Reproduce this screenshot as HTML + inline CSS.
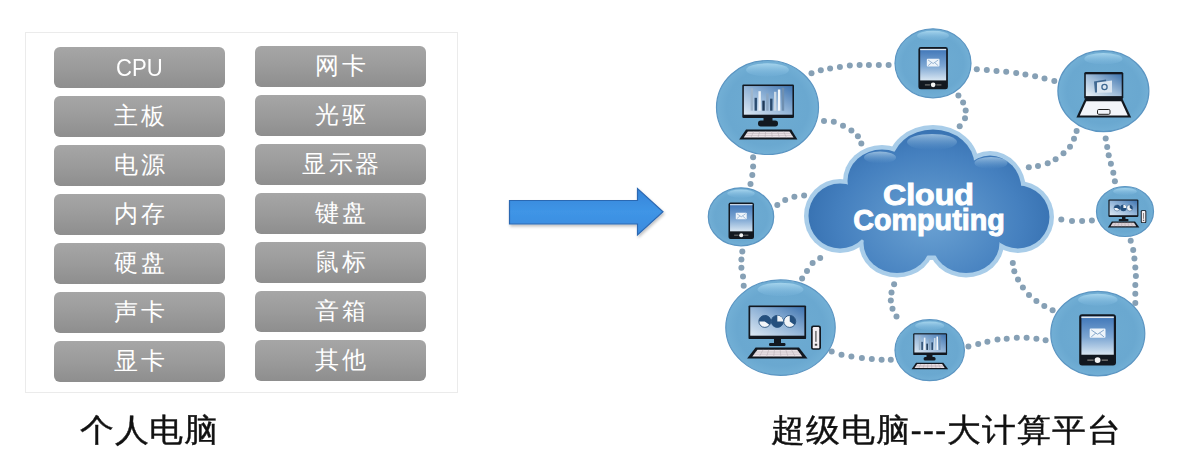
<!DOCTYPE html>
<html><head><meta charset="utf-8">
<style>
html,body{margin:0;padding:0;background:#fff;}
body{width:1190px;height:457px;position:relative;overflow:hidden;font-family:"Liberation Sans",sans-serif;}
.panel{position:absolute;left:25px;top:32px;width:433px;height:361px;border:1px solid #ebebeb;box-sizing:border-box;}
.btn{position:absolute;width:171px;height:41px;border-radius:6px;background:linear-gradient(#a6a6a6,#9b9b9b 50%,#8e8e8e);color:#fff;font-size:24px;line-height:40px;text-align:center;font-weight:300;letter-spacing:2.5px;text-indent:2.5px;}
.btn.en{font-size:24px;letter-spacing:0;text-indent:0;line-height:41px;}
.cap{position:absolute;font-size:32px;color:#111;line-height:1;white-space:nowrap;letter-spacing:0.6px;transform:scaleX(1.06);transform-origin:0 0;-webkit-text-stroke:0.4px #111;}
</style></head><body>
<div class="panel"></div>
<div class="btn en" style="left:54px;top:47px"><span style="display:inline-block;transform:scaleX(0.92)">CPU</span></div>
<div class="btn" style="left:54px;top:96px">主板</div>
<div class="btn" style="left:54px;top:145px">电源</div>
<div class="btn" style="left:54px;top:194px">内存</div>
<div class="btn" style="left:54px;top:243px">硬盘</div>
<div class="btn" style="left:54px;top:292px">声卡</div>
<div class="btn" style="left:54px;top:341px">显卡</div>
<div class="btn" style="left:255px;top:46px">网卡</div>
<div class="btn" style="left:255px;top:95px">光驱</div>
<div class="btn" style="left:255px;top:144px">显示器</div>
<div class="btn" style="left:255px;top:193px">键盘</div>
<div class="btn" style="left:255px;top:242px">鼠标</div>
<div class="btn" style="left:255px;top:291px">音箱</div>
<div class="btn" style="left:255px;top:340px">其他</div>

<svg style="position:absolute;left:0;top:0" width="1190" height="457" viewBox="0 0 1190 457"><defs>
<linearGradient id="arr" x1="0" y1="0" x2="0" y2="1"><stop offset="0" stop-color="#3584d8"/><stop offset="0.5" stop-color="#3f95e6"/><stop offset="1" stop-color="#3a8ade"/></linearGradient>
<radialGradient id="cg" cx="0.5" cy="0.5" r="0.5"><stop offset="0" stop-color="#6eacd2"/><stop offset="0.8" stop-color="#6aa8d0"/><stop offset="1" stop-color="#72afd5"/></radialGradient>
<filter id="ash" x="-5%" y="-20%" width="115%" height="150%"><feGaussianBlur in="SourceAlpha" stdDeviation="1.5"/><feOffset dx="1" dy="2"/><feComponentTransfer><feFuncA type="linear" slope="0.25"/></feComponentTransfer><feMerge><feMergeNode/><feMergeNode in="SourceGraphic"/></feMerge></filter>
<linearGradient id="hl" x1="0" y1="0" x2="0" y2="1"><stop offset="0" stop-color="#a8d6ee" stop-opacity="0.95"/><stop offset="1" stop-color="#78b4dc" stop-opacity="0.25"/></linearGradient>
<linearGradient id="scr" x1="0" y1="1" x2="1" y2="0"><stop offset="0" stop-color="#dce8f3"/><stop offset="0.5" stop-color="#93b5d8"/><stop offset="1" stop-color="#3f74b0"/></linearGradient>
<linearGradient id="scr2" x1="0" y1="1" x2="1" y2="0"><stop offset="0" stop-color="#eaf1f7"/><stop offset="0.5" stop-color="#9dbbd8"/><stop offset="1" stop-color="#3f74ae"/></linearGradient>
<linearGradient id="ph" x1="0" y1="0" x2="0" y2="1"><stop offset="0" stop-color="#3f76b8"/><stop offset="0.55" stop-color="#7ea7d3"/><stop offset="1" stop-color="#d8e6f2"/></linearGradient>
<radialGradient id="cl" gradientUnits="userSpaceOnUse" cx="930" cy="222" r="130" gradientTransform="translate(930 222) scale(1 0.75) translate(-930 -222)"><stop offset="0" stop-color="#6aa1d3"/><stop offset="0.3" stop-color="#5a93ca"/><stop offset="0.7" stop-color="#4580bf"/><stop offset="1" stop-color="#3670b0"/></radialGradient>
<linearGradient id="chl" x1="0" y1="0" x2="0" y2="1"><stop offset="0" stop-color="#b4d2ea" stop-opacity="0.75"/><stop offset="1" stop-color="#6fa6d6" stop-opacity="0"/></linearGradient>
</defs><path d="M509.5,200.5 H637.5 V188.5 L663,211.8 L637.5,235 V224 H509.5 Z" fill="url(#arr)" stroke="#2c68b2" stroke-width="1.2" filter="url(#ash)"/><g fill="#86a0b5"><circle cx="811.5" cy="73.2" r="3"/><circle cx="820.8" cy="70.2" r="3"/><circle cx="830.1" cy="68.6" r="3"/><circle cx="839.9" cy="67" r="3"/><circle cx="849.8" cy="65.6" r="3"/><circle cx="859.6" cy="65" r="3"/><circle cx="868.9" cy="65" r="3"/><circle cx="878.8" cy="65" r="3"/><circle cx="888.6" cy="65" r="3"/><circle cx="976.8" cy="69.2" r="3"/><circle cx="986.8" cy="70" r="3"/><circle cx="996.5" cy="71" r="3"/><circle cx="1006.2" cy="71.8" r="3"/><circle cx="1016.2" cy="73.1" r="3"/><circle cx="1025.4" cy="74.4" r="3"/><circle cx="1035.1" cy="76.3" r="3"/><circle cx="1044.5" cy="78.4" r="3"/><circle cx="1054.3" cy="81" r="3"/><circle cx="958.4" cy="95.5" r="3"/><circle cx="963.1" cy="102.6" r="3"/><circle cx="965.7" cy="110.4" r="3"/><circle cx="965" cy="118.3" r="3"/><circle cx="959.7" cy="126.2" r="3"/><circle cx="1076.6" cy="130.9" r="3"/><circle cx="1074" cy="138.8" r="3"/><circle cx="1070" cy="146.7" r="3"/><circle cx="1063.5" cy="153.2" r="3"/><circle cx="1055.6" cy="159.3" r="3"/><circle cx="1047.7" cy="163.2" r="3"/><circle cx="1038" cy="165.9" r="3"/><circle cx="1028.8" cy="167.2" r="3"/><circle cx="824" cy="121" r="3"/><circle cx="833.8" cy="121.8" r="3"/><circle cx="843" cy="125.8" r="3"/><circle cx="851.4" cy="130.5" r="3"/><circle cx="857.9" cy="136.3" r="3"/><circle cx="861.3" cy="143.6" r="3"/><circle cx="753.1" cy="157.3" r="3"/><circle cx="753.1" cy="166.5" r="3"/><circle cx="752.3" cy="175.1" r="3"/><circle cx="750.5" cy="184.1" r="3"/><circle cx="777.3" cy="205.1" r="3"/><circle cx="785.2" cy="200.1" r="3"/><circle cx="794.4" cy="196.7" r="3"/><circle cx="804.1" cy="195.4" r="3"/><circle cx="742.3" cy="251.4" r="3"/><circle cx="741.4" cy="259.6" r="3"/><circle cx="741.4" cy="267.8" r="3"/><circle cx="743" cy="276.6" r="3"/><circle cx="743.7" cy="285.8" r="3"/><circle cx="802.1" cy="278.6" r="3"/><circle cx="807" cy="271" r="3"/><circle cx="812.6" cy="262.9" r="3"/><circle cx="820.2" cy="257.9" r="3"/><circle cx="831.7" cy="351.5" r="3"/><circle cx="841.5" cy="354.8" r="3"/><circle cx="851.4" cy="356.5" r="3"/><circle cx="861.9" cy="358.1" r="3"/><circle cx="871.8" cy="359.1" r="3"/><circle cx="881.6" cy="359.8" r="3"/><circle cx="890.8" cy="359.8" r="3"/><circle cx="894.1" cy="284.2" r="3"/><circle cx="891.5" cy="292.4" r="3"/><circle cx="890.8" cy="300.6" r="3"/><circle cx="892.5" cy="308.8" r="3"/><circle cx="896.5" cy="316.5" r="3"/><circle cx="968.4" cy="346.4" r="3"/><circle cx="978.2" cy="343.9" r="3"/><circle cx="987.4" cy="341.8" r="3"/><circle cx="997.5" cy="339.6" r="3"/><circle cx="1006.7" cy="338.7" r="3"/><circle cx="1016.8" cy="337.8" r="3"/><circle cx="1026.6" cy="337.8" r="3"/><circle cx="1036.4" cy="338.7" r="3"/><circle cx="1045.6" cy="340.3" r="3"/><circle cx="1012.8" cy="263.1" r="3"/><circle cx="1014.3" cy="271.3" r="3"/><circle cx="1018" cy="279.6" r="3"/><circle cx="1022.9" cy="287.6" r="3"/><circle cx="1029" cy="294.9" r="3"/><circle cx="1036.4" cy="301.1" r="3"/><circle cx="1044.3" cy="306" r="3"/><circle cx="1052.6" cy="310.2" r="3"/><circle cx="1130.7" cy="240.7" r="3"/><circle cx="1133.2" cy="249.9" r="3"/><circle cx="1134.4" cy="258.5" r="3"/><circle cx="1135.3" cy="267.4" r="3"/><circle cx="1135.9" cy="275.9" r="3"/><circle cx="1135.3" cy="285.1" r="3"/><circle cx="1135.3" cy="293.7" r="3"/><circle cx="1135.3" cy="302.9" r="3"/><circle cx="1105.7" cy="138.4" r="3"/><circle cx="1107.2" cy="147" r="3"/><circle cx="1108.7" cy="155.2" r="3"/><circle cx="1110.9" cy="163.8" r="3"/><circle cx="1113.3" cy="172.7" r="3"/><circle cx="1114.9" cy="181.3" r="3"/><circle cx="1061.3" cy="219.5" r="3"/><circle cx="1072" cy="221.1" r="3"/><circle cx="1082.1" cy="221.1" r="3"/><circle cx="1091.9" cy="220.5" r="3"/></g><ellipse cx="767.5" cy="107.5" rx="51" ry="47" fill="url(#cg)" stroke="#5b95c2" stroke-width="1.2"/><ellipse cx="767.5" cy="69.90" rx="21.42" ry="6.58" fill="url(#hl)"/><ellipse cx="933" cy="63.3" rx="38" ry="34.5" fill="url(#cg)" stroke="#5b95c2" stroke-width="1.2"/><ellipse cx="933" cy="35.70" rx="15.96" ry="4.83" fill="url(#hl)"/><ellipse cx="1103.4" cy="91.1" rx="45.5" ry="40.5" fill="url(#cg)" stroke="#5b95c2" stroke-width="1.2"/><ellipse cx="1103.4" cy="58.70" rx="19.11" ry="5.67" fill="url(#hl)"/><ellipse cx="741" cy="216.8" rx="32.7" ry="29" fill="url(#cg)" stroke="#5b95c2" stroke-width="1.2"/><ellipse cx="741" cy="193.60" rx="13.73" ry="4.06" fill="url(#hl)"/><ellipse cx="1125" cy="211.5" rx="28.5" ry="25" fill="url(#cg)" stroke="#5b95c2" stroke-width="1.2"/><ellipse cx="1125" cy="191.50" rx="11.97" ry="3.50" fill="url(#hl)"/><ellipse cx="780.5" cy="327.6" rx="54.7" ry="47.7" fill="url(#cg)" stroke="#5b95c2" stroke-width="1.2"/><ellipse cx="780.5" cy="289.44" rx="22.97" ry="6.68" fill="url(#hl)"/><ellipse cx="929.7" cy="350.2" rx="34.7" ry="30.5" fill="url(#cg)" stroke="#5b95c2" stroke-width="1.2"/><ellipse cx="929.7" cy="325.80" rx="14.57" ry="4.27" fill="url(#hl)"/><ellipse cx="1097.8" cy="333.6" rx="47" ry="42.3" fill="url(#cg)" stroke="#5b95c2" stroke-width="1.2"/><ellipse cx="1097.8" cy="299.76" rx="19.74" ry="5.92" fill="url(#hl)"/><ellipse cx="840" cy="216" rx="36" ry="37" fill="#a9cde9"/><ellipse cx="882" cy="181" rx="39" ry="36" fill="#a9cde9"/><ellipse cx="933" cy="165" rx="46" ry="40" fill="#a9cde9"/><ellipse cx="990" cy="190" rx="36" ry="39" fill="#a9cde9"/><ellipse cx="1018" cy="217" rx="36" ry="36" fill="#a9cde9"/><ellipse cx="897" cy="243" rx="38" ry="34.5" fill="#a9cde9"/><ellipse cx="966" cy="243" rx="38" ry="34.5" fill="#a9cde9"/><ellipse cx="930" cy="212" rx="92" ry="48" fill="#a9cde9"/><ellipse cx="840" cy="216" rx="31.5" ry="32.5" fill="url(#cl)"/><ellipse cx="882" cy="181" rx="34.5" ry="31.5" fill="url(#cl)"/><ellipse cx="933" cy="165" rx="41.5" ry="35.5" fill="url(#cl)"/><ellipse cx="990" cy="190" rx="31.5" ry="34.5" fill="url(#cl)"/><ellipse cx="1018" cy="217" rx="31.5" ry="31.5" fill="url(#cl)"/><ellipse cx="897" cy="243" rx="33.5" ry="30.0" fill="url(#cl)"/><ellipse cx="966" cy="243" rx="33.5" ry="30.0" fill="url(#cl)"/><ellipse cx="930" cy="212" rx="87.5" ry="43.5" fill="url(#cl)"/><ellipse cx="932" cy="142" rx="25" ry="8" fill="url(#chl)"/><ellipse cx="880" cy="157.5" rx="16" ry="6" fill="url(#chl)"/><ellipse cx="991" cy="163" rx="16.5" ry="6" fill="url(#chl)"/><text x="928.5" y="204.5" font-family="Liberation Sans" font-weight="bold" font-size="30" fill="#fff" stroke="#fff" stroke-width="1" text-anchor="middle" textLength="91" lengthAdjust="spacingAndGlyphs">Cloud</text><text x="929" y="229.5" font-family="Liberation Sans" font-weight="bold" font-size="30" fill="#fff" stroke="#fff" stroke-width="1" text-anchor="middle" textLength="151.5" lengthAdjust="spacingAndGlyphs">Computing</text><rect x="742.3" y="84.5" width="51.7" height="33.4" rx="1.2" fill="#121820"/><rect x="743.85" y="86.05" width="48.60" height="28.65" fill="url(#scr)"/><rect x="750.65" y="88.34" width="2.41" height="22.35" fill="#9fb6cc"/><rect x="754.54" y="97.80" width="2.41" height="12.89" fill="#2c4d70"/><rect x="758.43" y="91.21" width="2.41" height="19.48" fill="#eef3f8"/><rect x="762.32" y="100.66" width="2.41" height="10.03" fill="#1f3a58"/><rect x="766.21" y="93.50" width="2.41" height="17.19" fill="#8aa6c2"/><rect x="770.09" y="98.66" width="2.41" height="12.03" fill="#2b4b6d"/><rect x="773.98" y="91.78" width="2.41" height="18.91" fill="#c9d8e6"/><rect x="777.87" y="89.49" width="2.41" height="21.20" fill="#f4f8fb"/><rect x="781.76" y="87.77" width="2.41" height="22.92" fill="#6f8fb0"/><rect x="763.5" y="117.5" width="9.00" height="4.00" fill="#121820"/><rect x="758" y="120.50" width="20.00" height="6.00" rx="2.75" fill="#121820"/><path d="M746,129.4 H791.3 L797.4,139.4 H739.2 Z" fill="#121820"/><path d="M747.84,131.40 H789.46 L793.54,137.40 H743.76 Z" fill="#ece3e8"/><line x1="753.79" y1="131.40" x2="750.87" y2="137.40" stroke="#b3a9ae" stroke-width="0.5"/><line x1="759.73" y1="131.40" x2="757.98" y2="137.40" stroke="#b3a9ae" stroke-width="0.5"/><line x1="765.68" y1="131.40" x2="765.09" y2="137.40" stroke="#b3a9ae" stroke-width="0.5"/><line x1="771.62" y1="131.40" x2="772.21" y2="137.40" stroke="#b3a9ae" stroke-width="0.5"/><line x1="777.57" y1="131.40" x2="779.32" y2="137.40" stroke="#b3a9ae" stroke-width="0.5"/><line x1="783.51" y1="131.40" x2="786.43" y2="137.40" stroke="#b3a9ae" stroke-width="0.5"/><line x1="746.48" y1="133.40" x2="790.82" y2="133.40" stroke="#b3a9ae" stroke-width="0.5"/><line x1="745.12" y1="135.40" x2="792.18" y2="135.40" stroke="#b3a9ae" stroke-width="0.5"/><rect x="918.4" y="47" width="29.5" height="42.3" rx="2.4" fill="#121820"/><rect x="920.17" y="48.90" width="25.96" height="31.51" fill="url(#ph)"/><rect x="920.17" y="48.90" width="25.96" height="1.27" fill="#dfe7ef"/><rect x="926.81" y="58.84" width="12.69" height="7.61" rx="0.89" fill="#eef4fa"/><path d="M928.08,59.99 L933.15,63.56 L938.22,59.99 M928.08,65.70 L931.63,62.65 M938.22,65.70 L934.67,62.65" fill="none" stroke="#7b9fc6" stroke-width="0.74"/><circle cx="933.15" cy="84.86" r="2.36" fill="#f4f4f4"/><rect x="924.89" y="84.27" width="5.02" height="1.27" fill="#6d6d6d"/><rect x="936.39" y="84.27" width="5.02" height="1.27" fill="#6d6d6d"/><rect x="1084.2" y="72.1" width="39.1" height="26.8" rx="1.5" fill="#121820"/><rect x="1085.8" y="74.3" width="35.9" height="21.8" fill="url(#scr2)"/><path d="M1094,81.5 L1106,79.5 L1107,92 L1095,92.5 Z" fill="#2f5985" opacity="0.85"/><path d="M1097,82.5 L1112,80.5 L1112,92.5 L1097,93 Z" fill="#dbe6f1"/><circle cx="1104.5" cy="87" r="2.6" fill="none" stroke="#3d6791" stroke-width="1.3"/><path d="M1084.9,99 H1122.6 L1131.2,117.6 H1076.4 Z" fill="#121820"/><path d="M1086.3,101.2 H1121.2 L1127.8,115.6 H1079.8 Z" fill="#f3f5fa"/><rect x="1097.5" y="109.5" width="12.5" height="4.8" rx="1.2" fill="none" stroke="#222" stroke-width="1"/><rect x="728.5" y="202.5" width="25.5" height="36.5" rx="2.0" fill="#121820"/><rect x="730.03" y="204.14" width="22.44" height="27.19" fill="url(#ph)"/><rect x="730.03" y="204.14" width="22.44" height="1.09" fill="#dfe7ef"/><rect x="735.77" y="212.72" width="10.96" height="6.57" rx="0.77" fill="#eef4fa"/><path d="M736.86,213.71 L741.25,216.79 L745.64,213.71 M736.86,218.63 L739.93,216.00 M745.64,218.63 L742.57,216.00" fill="none" stroke="#7b9fc6" stroke-width="0.64"/><circle cx="741.25" cy="235.17" r="2.04" fill="#f4f4f4"/><rect x="734.11" y="234.66" width="4.33" height="1.09" fill="#6d6d6d"/><rect x="744.05" y="234.66" width="4.33" height="1.09" fill="#6d6d6d"/><rect x="1108.4" y="199.4" width="30" height="17.6" rx="1.2" fill="#121820"/><rect x="1109.60" y="200.60" width="27.60" height="14.60" fill="url(#scr)"/><circle cx="1117.05" cy="207.90" r="3.07" fill="#f2f5f8" stroke="#25507e" stroke-width="0.50"/><path d="M1117.05,207.90 L1117.05,204.83 A3.07,3.07 0 0 1 1119.53,209.70 Z" fill="#25507e"/><path d="M1113.99,207.90 A3.07,3.07 0 0 1 1120.12,207.90 Z" fill="#25507e"/><circle cx="1123.40" cy="207.90" r="3.07" fill="#25507e" stroke="#25507e" stroke-width="0.50"/><path d="M1123.40,207.90 L1123.40,204.83 A3.07,3.07 0 0 1 1126.47,207.90 Z" fill="#f2f5f8"/><circle cx="1129.75" cy="207.90" r="3.07" fill="#f2f5f8" stroke="#25507e" stroke-width="0.50"/><path d="M1129.75,207.90 L1129.75,204.83 A3.07,3.07 0 0 1 1132.23,209.70 Z" fill="#25507e"/><rect x="1122" y="216.8" width="3.50" height="3.20" fill="#121820"/><rect x="1118.7" y="219.00" width="9.80" height="2.20" rx="0.85" fill="#121820"/><path d="M1111.8,221.5 H1135 L1139.4,227.4 H1107.9 Z" fill="#121820"/><path d="M1112.91,222.68 H1133.89 L1136.23,226.22 H1110.57 Z" fill="#ece3e8"/><line x1="1115.91" y1="222.68" x2="1114.23" y2="226.22" stroke="#b3a9ae" stroke-width="0.5"/><line x1="1118.90" y1="222.68" x2="1117.90" y2="226.22" stroke="#b3a9ae" stroke-width="0.5"/><line x1="1121.90" y1="222.68" x2="1121.57" y2="226.22" stroke="#b3a9ae" stroke-width="0.5"/><line x1="1124.90" y1="222.68" x2="1125.23" y2="226.22" stroke="#b3a9ae" stroke-width="0.5"/><line x1="1127.90" y1="222.68" x2="1128.90" y2="226.22" stroke="#b3a9ae" stroke-width="0.5"/><line x1="1130.89" y1="222.68" x2="1132.57" y2="226.22" stroke="#b3a9ae" stroke-width="0.5"/><line x1="1112.13" y1="223.86" x2="1134.67" y2="223.86" stroke="#b3a9ae" stroke-width="0.5"/><line x1="1111.35" y1="225.04" x2="1135.45" y2="225.04" stroke="#b3a9ae" stroke-width="0.5"/><rect x="1140.8" y="210.2" width="5.5" height="12.8" rx="1.21" fill="#121820"/><rect x="1141.73" y="210.97" width="3.63" height="11.26" rx="0.66" fill="#f3eef2"/><rect x="1143.11" y="213.02" width="0.77" height="5.76" fill="#666"/><rect x="1142.89" y="219.80" width="1.32" height="1.02" fill="#444"/><rect x="748.5" y="305.4" width="57.6" height="33.7" rx="1.2" fill="#121820"/><rect x="750.23" y="307.13" width="54.14" height="28.57" fill="url(#scr)"/><circle cx="764.85" cy="321.41" r="6.00" fill="#f2f5f8" stroke="#25507e" stroke-width="0.90"/><path d="M764.85,321.41 L764.85,315.41 A6.00,6.00 0 0 1 769.70,324.94 Z" fill="#25507e"/><path d="M758.85,321.41 A6.00,6.00 0 0 1 770.85,321.41 Z" fill="#25507e"/><circle cx="777.30" cy="321.41" r="6.00" fill="#25507e" stroke="#25507e" stroke-width="0.90"/><path d="M777.30,321.41 L777.30,315.41 A6.00,6.00 0 0 1 783.30,321.41 Z" fill="#f2f5f8"/><circle cx="789.75" cy="321.41" r="6.00" fill="#f2f5f8" stroke="#25507e" stroke-width="0.90"/><path d="M789.75,321.41 L789.75,315.41 A6.00,6.00 0 0 1 794.61,324.94 Z" fill="#25507e"/><rect x="774" y="339" width="7.00" height="5.10" fill="#121820"/><rect x="769" y="343.10" width="16.50" height="2.90" rx="1.20" fill="#121820"/><path d="M755.6,347.6 H799 L807.5,358.6 H747.1 Z" fill="#121820"/><path d="M757.42,349.80 H797.18 L802.28,356.40 H752.32 Z" fill="#ece3e8"/><line x1="763.10" y1="349.80" x2="759.46" y2="356.40" stroke="#b3a9ae" stroke-width="0.5"/><line x1="768.78" y1="349.80" x2="766.59" y2="356.40" stroke="#b3a9ae" stroke-width="0.5"/><line x1="774.46" y1="349.80" x2="773.73" y2="356.40" stroke="#b3a9ae" stroke-width="0.5"/><line x1="780.14" y1="349.80" x2="780.87" y2="356.40" stroke="#b3a9ae" stroke-width="0.5"/><line x1="785.82" y1="349.80" x2="788.01" y2="356.40" stroke="#b3a9ae" stroke-width="0.5"/><line x1="791.50" y1="349.80" x2="795.14" y2="356.40" stroke="#b3a9ae" stroke-width="0.5"/><line x1="755.72" y1="352.00" x2="798.88" y2="352.00" stroke="#b3a9ae" stroke-width="0.5"/><line x1="754.02" y1="354.20" x2="800.58" y2="354.20" stroke="#b3a9ae" stroke-width="0.5"/><rect x="811" y="325.6" width="10" height="24.2" rx="2.20" fill="#121820"/><rect x="812.70" y="327.05" width="6.60" height="21.30" rx="1.20" fill="#f3eef2"/><rect x="815.20" y="330.92" width="1.40" height="10.89" fill="#666"/><rect x="814.80" y="343.75" width="2.40" height="1.94" fill="#444"/><rect x="913.2" y="333.2" width="33.9" height="21.9" rx="1.2" fill="#121820"/><rect x="914.40" y="334.40" width="31.50" height="18.10" fill="url(#scr)"/><rect x="918.81" y="335.85" width="1.56" height="14.12" fill="#9fb6cc"/><rect x="921.33" y="341.82" width="1.56" height="8.14" fill="#2c4d70"/><rect x="923.85" y="337.66" width="1.56" height="12.31" fill="#eef3f8"/><rect x="926.37" y="343.63" width="1.56" height="6.33" fill="#1f3a58"/><rect x="928.89" y="339.11" width="1.56" height="10.86" fill="#8aa6c2"/><rect x="931.41" y="342.36" width="1.56" height="7.60" fill="#2b4b6d"/><rect x="933.93" y="338.02" width="1.56" height="11.95" fill="#c9d8e6"/><rect x="936.45" y="336.57" width="1.56" height="13.39" fill="#f4f8fb"/><rect x="938.97" y="335.49" width="1.56" height="14.48" fill="#6f8fb0"/><rect x="926.5" y="355" width="6.00" height="3.00" fill="#121820"/><rect x="923.6" y="357.00" width="12.00" height="3.60" rx="1.55" fill="#121820"/><path d="M916,362.7 H943.3 L948.2,369.3 H911.6 Z" fill="#121820"/><path d="M917.23,364.02 H942.07 L944.71,367.98 H914.59 Z" fill="#ece3e8"/><line x1="920.78" y1="364.02" x2="918.89" y2="367.98" stroke="#b3a9ae" stroke-width="0.5"/><line x1="924.33" y1="364.02" x2="923.20" y2="367.98" stroke="#b3a9ae" stroke-width="0.5"/><line x1="927.88" y1="364.02" x2="927.50" y2="367.98" stroke="#b3a9ae" stroke-width="0.5"/><line x1="931.42" y1="364.02" x2="931.80" y2="367.98" stroke="#b3a9ae" stroke-width="0.5"/><line x1="934.97" y1="364.02" x2="936.10" y2="367.98" stroke="#b3a9ae" stroke-width="0.5"/><line x1="938.52" y1="364.02" x2="940.41" y2="367.98" stroke="#b3a9ae" stroke-width="0.5"/><line x1="916.35" y1="365.34" x2="942.95" y2="365.34" stroke="#b3a9ae" stroke-width="0.5"/><line x1="915.47" y1="366.66" x2="943.83" y2="366.66" stroke="#b3a9ae" stroke-width="0.5"/><rect x="1079.2" y="314.2" width="36.8" height="51.3" rx="2.9" fill="#121820"/><rect x="1081.41" y="316.51" width="32.38" height="38.22" fill="url(#ph)"/><rect x="1081.41" y="316.51" width="32.38" height="1.54" fill="#dfe7ef"/><rect x="1089.69" y="328.56" width="15.82" height="9.23" rx="1.10" fill="#eef4fa"/><path d="M1091.27,329.95 L1097.60,334.29 L1103.93,329.95 M1091.27,336.87 L1095.70,333.18 M1103.93,336.87 L1099.50,333.18" fill="none" stroke="#7b9fc6" stroke-width="0.92"/><circle cx="1097.60" cy="360.11" r="2.94" fill="#f4f4f4"/><rect x="1087.30" y="359.40" width="6.26" height="1.54" fill="#6d6d6d"/><rect x="1101.65" y="359.40" width="6.26" height="1.54" fill="#6d6d6d"/></svg>

<div class="cap" style="left:80px;top:414px">个人电脑</div>
<div class="cap" style="left:771px;top:414px;letter-spacing:0.9px">超级电脑---大计算平台</div>
</body></html>
